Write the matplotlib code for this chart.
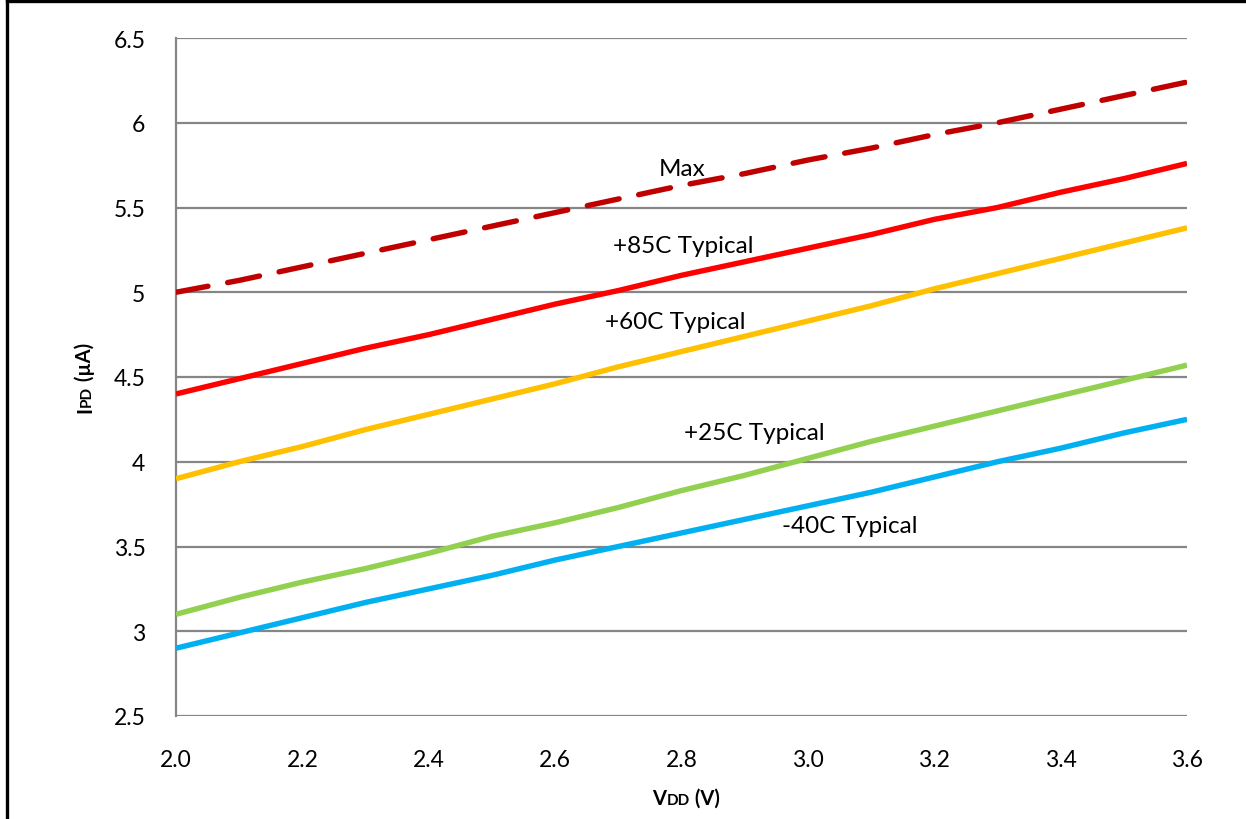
import matplotlib
matplotlib.use("Agg")
import matplotlib.pyplot as plt
from matplotlib.lines import Line2D

plt.rcParams['font.family'] = ['Lato', 'DejaVu Sans']

vdd = [2.0, 2.1, 2.2, 2.3, 2.4, 2.5, 2.6, 2.7, 2.8, 2.9, 3.0, 3.1, 3.2, 3.3, 3.4, 3.5, 3.6]
ipd_max = [5.00, 5.07, 5.15, 5.23, 5.31, 5.39, 5.47, 5.55, 5.63, 5.70, 5.78, 5.85, 5.93, 6.00, 6.08, 6.16, 6.24]
ipd_85 = [4.40, 4.49, 4.58, 4.67, 4.75, 4.84, 4.93, 5.01, 5.10, 5.18, 5.26, 5.34, 5.43, 5.50, 5.59, 5.67, 5.76]
ipd_60 = [3.90, 4.00, 4.09, 4.19, 4.28, 4.37, 4.46, 4.56, 4.65, 4.74, 4.83, 4.92, 5.02, 5.11, 5.20, 5.29, 5.38]
ipd_25 = [3.10, 3.20, 3.29, 3.37, 3.46, 3.56, 3.64, 3.73, 3.83, 3.92, 4.02, 4.12, 4.21, 4.30, 4.39, 4.48, 4.57]
ipd_m40 = [2.90, 2.99, 3.08, 3.17, 3.25, 3.33, 3.42, 3.50, 3.58, 3.66, 3.74, 3.82, 3.91, 4.00, 4.08, 4.17, 4.25]

series_labels = ["Max", "+85C Typical", "+60C Typical", "+25C Typical", "-40C Typical"]
x_ticks = [2.0, 2.2, 2.4, 2.6, 2.8, 3.0, 3.2, 3.4, 3.6]
x_tick_labels = ["2.0", "2.2", "2.4", "2.6", "2.8", "3.0", "3.2", "3.4", "3.6"]
y_ticks = [2.5, 3, 3.5, 4, 4.5, 5, 5.5, 6, 6.5]
y_tick_labels = ["2.5", "3", "3.5", "4", "4.5", "5", "5.5", "6", "6.5"]

W, H = 1246, 820
fig = plt.figure(figsize=(W / 100, H / 100), dpi=100)
ax = fig.add_axes([176 / W, 1 - 717 / H, (1187 - 176) / W, (717 - 39) / H])

grid_col = '#868686'
for yv in y_ticks:
    ax.axhline(yv, color=grid_col, lw=1.6, zorder=1)

lw = 3.9
ax.plot(vdd, ipd_m40, color='#00B0F0', lw=lw, solid_capstyle='butt', zorder=3)
ax.plot(vdd, ipd_25, color='#92D050', lw=lw, solid_capstyle='butt', zorder=3)
ax.plot(vdd, ipd_60, color='#FFC000', lw=lw, solid_capstyle='butt', zorder=3)
ax.plot(vdd, ipd_85, color='#FF0000', lw=lw, solid_capstyle='butt', zorder=3)
ax.plot(vdd, ipd_max, color='#C00000', lw=lw, dashes=(6.0, 3.7), dash_capstyle='round', zorder=4)

ax.set_xlim(2.0, 3.6)
ax.set_ylim(2.5, 6.5)
ax.set_xticks(x_ticks)
ax.set_xticklabels(x_tick_labels)
ax.set_yticks(y_ticks)
ax.set_yticklabels(y_tick_labels)
ax.tick_params(axis='both', length=0, labelsize=16.5, colors='black')
ax.tick_params(axis='y', pad=22)
ax.tick_params(axis='x', pad=24)
for s in ['top', 'right', 'bottom']:
    ax.spines[s].set_visible(False)
ax.spines['left'].set_color(grid_col)
ax.spines['left'].set_linewidth(1.6)

# series annotations
fs = 17.5
ax.text(2.801, 5.733, series_labels[0], ha='center', va='center', fontsize=fs)
ax.text(2.802, 5.273, series_labels[1], ha='center', va='center', fontsize=fs)
ax.text(2.790, 4.830, series_labels[2], ha='center', va='center', fontsize=fs)
ax.text(2.916, 4.175, series_labels[3], ha='center', va='center', fontsize=fs)
ax.text(3.067, 3.621, series_labels[4], ha='center', va='center', fontsize=fs)

# axis labels with small-caps subscripts
renderer = fig.canvas.get_renderer()

def compose(parts, x0, y0, rotation=0):
    widths = []
    for t, s in parts:
        tt = fig.text(0, 0, t, fontsize=s, fontweight='bold')
        bb = tt.get_window_extent(renderer)
        widths.append(bb.width)
        tt.remove()
    total = sum(widths)
    pos = -total / 2
    for (t, s), w in zip(parts, widths):
        if rotation == 0:
            fig.text((x0 + pos) / W, 1 - y0 / H, t, fontsize=s, fontweight='bold',
                     ha='left', va='baseline')
        else:
            fig.text(x0 / W, 1 - (y0 - pos) / H, t, fontsize=s, fontweight='bold',
                     ha='left', va='baseline', rotation=90, rotation_mode='anchor')
        pos += w

compose([("V", 14.5), ("DD", 11), (" (V)", 14.5)], 686, 805)
compose([("I", 14.5), ("PD", 11), (" (µA)", 14.5)], 91, 378, rotation=90)

# figure border (left and top visible)
fig.add_artist(Line2D([7 / W, 7 / W], [0, 1 - 2 / H], color='black', lw=2.4, transform=fig.transFigure))
fig.add_artist(Line2D([7 / W, 1], [1 - 2 / H, 1 - 2 / H], color='black', lw=2.4, transform=fig.transFigure))

fig.savefig("out.png", dpi=100, facecolor='white')
